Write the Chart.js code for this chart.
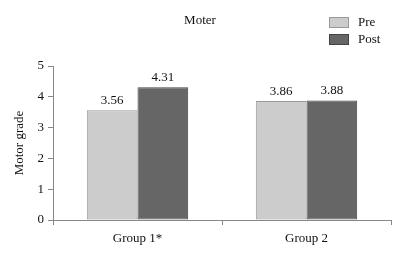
<!DOCTYPE html>
<html>
<head>
<meta charset="utf-8">
<script src="https://cdn.jsdelivr.net/npm/chart.js@4/dist/chart.umd.min.js"></script>
<style>
html,body{margin:0;padding:0;background:#fff;}
#wrap{width:402px;height:253px;position:relative;}
</style>
</head>
<body>
<div id="wrap"><canvas id="c" width="402" height="253"></canvas></div>
<script>
const categories = ["Group 1*", "Group 2"];
const seriesNames = ["Pre", "Post"];
const preValues = [3.56, 3.86];
const postValues = [4.31, 3.88];
const yTicks = [0, 1, 2, 3, 4, 5];
const valueLabels = [["3.56", "3.86"], ["4.31", "3.88"]];
const chartTitle = "Moter";
const yTitle = "Motor grade";

const FONT = "'Liberation Serif', 'DejaVu Serif', serif";
const TEXT = "#111";
const colors = [
  {fill: "#cccccc", border: "#999999"},
  {fill: "#666666", border: "#444444"}
];

const overlay = {
  id: "overlay",
  afterDatasetsDraw(chart) {
    const ctx = chart.ctx;
    ctx.save();
    ctx.fillStyle = TEXT;
    ctx.font = "13px " + FONT;
    ctx.textAlign = "center";
    ctx.textBaseline = "bottom";
    chart.data.datasets.forEach((ds, di) => {
      chart.getDatasetMeta(di).data.forEach((bar, i) => {
        ctx.fillText(valueLabels[di][i], bar.x, bar.y - 3);
      });
    });
    // title
    ctx.textBaseline = "middle";
    ctx.fillText(chartTitle, 200, 21);
    // legend
    ctx.textAlign = "left";
    seriesNames.forEach((n, i) => {
      const y = 17 + i * 17;
      ctx.fillStyle = colors[i].fill;
      ctx.fillRect(329, y, 20, 11);
      ctx.strokeStyle = colors[i].border;
      ctx.lineWidth = 1;
      ctx.strokeRect(329.5, y + 0.5, 19, 10);
      ctx.fillStyle = TEXT;
      ctx.fillText(n, 358, y + 6);
    });
    // y title
    ctx.save();
    ctx.translate(20, 143);
    ctx.rotate(-Math.PI / 2);
    ctx.textAlign = "center";
    ctx.fillText(yTitle, 0, 0);
    ctx.restore();
    ctx.restore();
  }
};

new Chart(document.getElementById("c"), {
  type: "bar",
  data: {
    labels: categories,
    datasets: [
      {label: seriesNames[0], data: preValues, backgroundColor: colors[0].fill, borderColor: colors[0].border, borderWidth: 1, borderSkipped: false},
      {label: seriesNames[1], data: postValues, backgroundColor: colors[1].fill, borderColor: colors[1].border, borderWidth: 1, borderSkipped: false}
    ]
  },
  options: {
    responsive: false,
    animation: false,
    events: [],
    layout: {padding: {top: 66, right: 11, bottom: 0, left: 0}},
    plugins: {legend: {display: false}, title: {display: false}, tooltip: {enabled: false}},
    datasets: {bar: {categoryPercentage: 0.6, barPercentage: 1.0}},
    scales: {
      x: {
        grid: {offset: true, drawOnChartArea: false, drawTicks: true, tickLength: 5, color: "#888"},
        border: {display: true, color: "#888"},
        ticks: {color: TEXT, font: {family: FONT, size: 13}, padding: 6},
        afterFit(s) { s.height = 33; }
      },
      y: {
        min: 0, max: 5,
        afterBuildTicks(s) { s.ticks = yTicks.map(v => ({value: v})); },
        grid: {drawOnChartArea: false, drawTicks: true, tickLength: 5, color: "#888"},
        border: {display: true, color: "#888"},
        ticks: {color: TEXT, font: {family: FONT, size: 13}, padding: 4},
        afterFit(s) { s.width = 53; }
      }
    }
  },
  plugins: [overlay]
});
</script>
</body>
</html>
